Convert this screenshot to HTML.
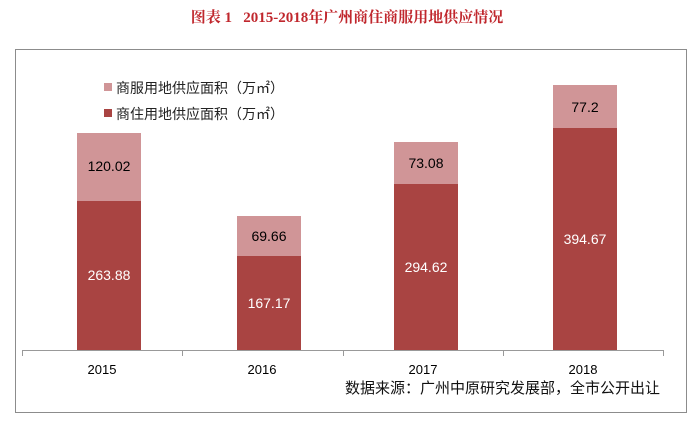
<!DOCTYPE html>
<html><head><meta charset="utf-8"><style>
body{margin:0;width:694px;height:424px;background:#fff;overflow:hidden;position:relative;font-family:"Liberation Sans","Noto Sans CJK SC",sans-serif}
.a{position:absolute}
.t{position:absolute;text-align:center;width:64px;font-size:14px}
</style></head><body>
<div class="a" style="left:0;width:694px;top:6px;text-align:center;color:#c0272d;font-weight:bold;font-size:15px;font-family:'Liberation Serif','Noto Serif CJK SC',serif">图表 1&nbsp;&nbsp;&nbsp;2015-2018年广州商住商服用地供应情况</div>
<div class="a" style="left:15px;top:49px;width:670px;height:362px;border:1px solid #8c8c8c"></div>
<div class="a" style="left:22px;top:350px;width:642px;height:1px;background:#999"></div>
<div class="a" style="left:22px;top:350px;width:1px;height:6px;background:#999"></div>
<div class="a" style="left:182px;top:350px;width:1px;height:6px;background:#999"></div>
<div class="a" style="left:343px;top:350px;width:1px;height:6px;background:#999"></div>
<div class="a" style="left:503px;top:350px;width:1px;height:6px;background:#999"></div>
<div class="a" style="left:663px;top:350px;width:1px;height:6px;background:#999"></div>

<div class="a" style="left:77px;top:133px;width:64px;height:68px;background:#d09597"></div>
<div class="a" style="left:77px;top:201px;width:64px;height:149px;background:#a94442"></div>
<div class="a" style="left:237px;top:216px;width:64px;height:40px;background:#d09597"></div>
<div class="a" style="left:237px;top:256px;width:64px;height:94px;background:#a94442"></div>
<div class="a" style="left:394px;top:142px;width:64px;height:42px;background:#d09597"></div>
<div class="a" style="left:394px;top:184px;width:64px;height:166px;background:#a94442"></div>
<div class="a" style="left:553px;top:85px;width:64px;height:43px;background:#d09597"></div>
<div class="a" style="left:553px;top:128px;width:64px;height:222px;background:#a94442"></div>

<div class="t" style="left:77px;top:158px">120.02</div>
<div class="t" style="left:77px;top:267px;color:#fff">263.88</div>
<div class="t" style="left:237px;top:228px">69.66</div>
<div class="t" style="left:237px;top:295px;color:#fff">167.17</div>
<div class="t" style="left:394px;top:155px">73.08</div>
<div class="t" style="left:394px;top:259px;color:#fff">294.62</div>
<div class="t" style="left:553px;top:99px">77.2</div>
<div class="t" style="left:553px;top:231px;color:#fff">394.67</div>

<div class="a" style="left:104px;top:83px;width:8px;height:8px;background:#d09597"></div>
<div class="a" style="left:116px;top:78px;font-size:14px;color:#222">商服用地供应面积（万㎡）</div>
<div class="a" style="left:104px;top:109px;width:8px;height:8px;background:#a94442"></div>
<div class="a" style="left:116px;top:104px;font-size:14px;color:#222">商住用地供应面积（万㎡）</div>

<div class="t" style="left:70px;top:362px;font-size:13px">2015</div>
<div class="t" style="left:230px;top:362px;font-size:13px">2016</div>
<div class="t" style="left:391px;top:362px;font-size:13px">2017</div>
<div class="t" style="left:551px;top:362px;font-size:13px">2018</div>
<div class="a" style="left:345px;top:377px;font-size:15px;color:#111">数据来源：广州中原研究发展部，全市公开出让</div>
</body></html>
